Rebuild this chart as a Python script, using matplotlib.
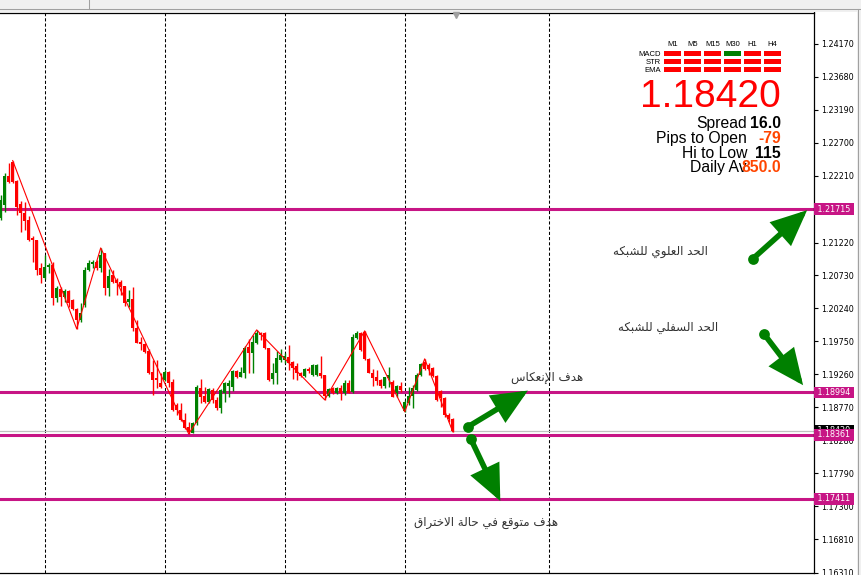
import numpy as np
import matplotlib.pyplot as plt
from matplotlib.patches import Rectangle

# ---- datos de las velas (EURUSD H4) ----
opens = [1.21586, 1.21779, 1.22210, 1.22417, 1.22135, 1.21794, 1.21659, 1.21556, 1.21289, 1.21259,
         1.20843, 1.20695, 1.20858, 1.20888, 1.20398, 1.20531, 1.20413, 1.20502, 1.20368, 1.20234,
         1.20071, 1.20294, 1.20813, 1.20902, 1.20932, 1.20843, 1.21065, 1.20546, 1.20739, 1.20665,
         1.20635, 1.20576, 1.20338, 1.20383, 1.19952, 1.19744, 1.19715, 1.19610, 1.19298, 1.19210,
         1.19135, 1.19180, 1.19298, 1.19150, 1.18809, 1.18734, 1.18586, 1.18482, 1.18393, 1.18541,
         1.19061, 1.18942, 1.18853, 1.19031, 1.18883, 1.18764, 1.18987, 1.19090, 1.19076, 1.19313,
         1.19224, 1.19283, 1.19670, 1.19580, 1.19729, 1.19878, 1.19878, 1.19655, 1.19195, 1.19283,
         1.19477, 1.19477, 1.19521, 1.19447, 1.19388, 1.19283, 1.19239, 1.19343, 1.19254, 1.19254,
         1.19283, 1.19254, 1.18942, 1.19061, 1.18987, 1.19061, 1.18987, 1.19135, 1.19001, 1.19804,
         1.19878, 1.19893, 1.19492, 1.19283, 1.19224, 1.19180, 1.19090, 1.19210, 1.19150, 1.18987,
         1.19090, 1.18720, 1.18838, 1.18942, 1.19031, 1.19254, 1.19447, 1.19402, 1.19358, 1.19239,
         1.19016, 1.18913, 1.18660, 1.18601]
highs = [1.21927, 1.22254, 1.22402, 1.22437, 1.22150, 1.21838, 1.21823, 1.21615, 1.21318, 1.21259,
         1.20917, 1.21036, 1.20917, 1.20932, 1.20576, 1.20561, 1.20531, 1.20516, 1.20383, 1.20249,
         1.20323, 1.20858, 1.20962, 1.20962, 1.20962, 1.21140, 1.21065, 1.20828, 1.20813, 1.20695,
         1.20665, 1.20576, 1.20516, 1.20561, 1.20071, 1.19819, 1.19729, 1.19640, 1.19477, 1.19477,
         1.19283, 1.19328, 1.19313, 1.19195, 1.18838, 1.18838, 1.18689, 1.18556, 1.18556, 1.19105,
         1.19195, 1.19076, 1.19061, 1.19061, 1.18928, 1.19046, 1.19150, 1.19180, 1.19328, 1.19328,
         1.19373, 1.19685, 1.19789, 1.19848, 1.19922, 1.19893, 1.19883, 1.19655, 1.19432, 1.19610,
         1.19640, 1.19580, 1.19700, 1.19462, 1.19432, 1.19298, 1.19358, 1.19373, 1.19417, 1.19417,
         1.19536, 1.19254, 1.19061, 1.19076, 1.19076, 1.19105, 1.19180, 1.19180, 1.19863, 1.19907,
         1.19883, 1.19907, 1.19506, 1.19343, 1.19328, 1.19195, 1.19224, 1.19373, 1.19180, 1.19105,
         1.19150, 1.18883, 1.19076, 1.19105, 1.19283, 1.19432, 1.19492, 1.19432, 1.19373, 1.19254,
         1.19031, 1.18928, 1.18689, 1.18616]
lows = [1.21556, 1.21674, 1.22105, 1.22105, 1.21630, 1.21377, 1.21407, 1.21244, 1.20932, 1.20739,
        1.20620, 1.20680, 1.20768, 1.20294, 1.20338, 1.20279, 1.20338, 1.20264, 1.20219, 1.19937,
        1.20041, 1.20264, 1.20798, 1.20843, 1.20813, 1.20783, 1.20442, 1.20427, 1.20620, 1.20442,
        1.20442, 1.20279, 1.20264, 1.19907, 1.19725, 1.19625, 1.19580, 1.19269, 1.18957, 1.19061,
        1.19061, 1.19165, 1.19076, 1.18720, 1.18660, 1.18571, 1.18452, 1.18378, 1.18385, 1.18511,
        1.18838, 1.18838, 1.18838, 1.18838, 1.18734, 1.18689, 1.18853, 1.18928, 1.19016, 1.19210,
        1.19217, 1.19210, 1.19283, 1.19283, 1.19715, 1.19774, 1.19640, 1.19165, 1.19120, 1.19120,
        1.19447, 1.19432, 1.19328, 1.19195, 1.19180, 1.19224, 1.19224, 1.19283, 1.19239, 1.19239,
        1.19210, 1.18883, 1.18928, 1.18972, 1.18972, 1.18883, 1.18957, 1.18980, 1.18987, 1.19789,
        1.19610, 1.19477, 1.19276, 1.19090, 1.19105, 1.19061, 1.19061, 1.19076, 1.18920, 1.18928,
        1.19001, 1.18705, 1.18809, 1.18764, 1.19016, 1.19239, 1.19328, 1.19254, 1.19224, 1.18868,
        1.18779, 1.18630, 1.18556, 1.18410]
closes = [1.21853, 1.22210, 1.22120, 1.22120, 1.21749, 1.21659, 1.21541, 1.21259, 1.21259, 1.20813,
          1.20739, 1.20858, 1.20888, 1.20398, 1.20546, 1.20413, 1.20502, 1.20323, 1.20234, 1.20071,
          1.20174, 1.20813, 1.20917, 1.20932, 1.20843, 1.21036, 1.20546, 1.20724, 1.20635, 1.20620,
          1.20561, 1.20323, 1.20383, 1.19952, 1.19729, 1.19715, 1.19595, 1.19283, 1.19180, 1.19180,
          1.19076, 1.19298, 1.19135, 1.18734, 1.18734, 1.18586, 1.18467, 1.18407, 1.18541, 1.19076,
          1.18928, 1.18853, 1.19046, 1.18883, 1.18764, 1.19031, 1.19135, 1.19135, 1.19313, 1.19224,
          1.19298, 1.19655, 1.19580, 1.19744, 1.19878, 1.19848, 1.19655, 1.19180, 1.19283, 1.19506,
          1.19551, 1.19536, 1.19432, 1.19358, 1.19283, 1.19239, 1.19343, 1.19313, 1.19402, 1.19402,
          1.19239, 1.18942, 1.19046, 1.18987, 1.19061, 1.18987, 1.19135, 1.18987, 1.19819, 1.19878,
          1.19625, 1.19492, 1.19283, 1.19210, 1.19165, 1.19090, 1.19224, 1.19254, 1.18928, 1.19090,
          1.19031, 1.18853, 1.18942, 1.19061, 1.19254, 1.19417, 1.19343, 1.19343, 1.19239, 1.18883,
          1.18913, 1.18660, 1.18601, 1.18420]

# zigzag (indice de vela, precio)
zz_idx = [3, 19, 25, 47, 64, 81, 91, 101, 106, 113]
zz_precio = [1.22437, 1.19937, 1.21140, 1.18378, 1.19922, 1.18883, 1.19907, 1.18705, 1.19492, 1.18410]

separadores = [11, 41, 71, 101, 137]          # lineas verticales de periodo
niveles = [1.21715, 1.18994, 1.18361, 1.17411]  # lineas horizontales
bid = 1.18420
ticks_precio = [1.24170, 1.23680, 1.23190, 1.22700, 1.22210, 1.21220, 1.20730, 1.20240,
                1.19750, 1.19260, 1.18770, 1.18280, 1.17790, 1.17300, 1.16810, 1.16310]

# flechas verdes: (inicio idx, inicio precio, fin idx, fin precio)
flechas = [(188.0, 1.20977, 201.6, 1.21700),
           (190.8, 1.19863, 200.6, 1.19100),
           (116.8, 1.18482, 131.8, 1.19020),
           (117.5, 1.18304, 124.9, 1.17380)]

textos = ["الحد العلوي للشبكه", "الحد السفلي للشبكه", "هدف الإنعكاس", "هدف متوقع في حالة الاختراق"]
textos_pos = [(176.8, 1.21081), (179.3, 1.19952), (145.6, 1.19210), (139.3, 1.17057)]

# panel de informacion
marcos = ["M1", "M5", "M15", "M30", "H1", "H4"]
indicadores = ["MACD", "STR", "EMA"]
senales = [[-1, -1, -1, 1, -1, -1],
           [-1, -1, -1, -1, -1, -1],
           [-1, -1, -1, -1, -1, -1]]
info_nombres = ["Spread", "Pips to Open", "Hi to Low", "Daily Av"]
info_valores = ["16.0", "-79", "115", "850.0"]
info_colores = ["black", "#FF4500", "black", "#FF4500"]

VERDE = "#008000"
ROJO = "#FF0000"
MAGENTA = "#C71585"

# ---- formas arabes (sin librerias externas) ----
FORMAS = {
    'ا': (0xFE8D, 0xFE8E), 'أ': (0xFE83, 0xFE84), 'إ': (0xFE87, 0xFE88), 'آ': (0xFE81, 0xFE82),
    'ب': (0xFE8F, 0xFE90, 0xFE91, 0xFE92), 'ت': (0xFE95, 0xFE96, 0xFE97, 0xFE98),
    'ث': (0xFE99, 0xFE9A, 0xFE9B, 0xFE9C), 'ج': (0xFE9D, 0xFE9E, 0xFE9F, 0xFEA0),
    'ح': (0xFEA1, 0xFEA2, 0xFEA3, 0xFEA4), 'خ': (0xFEA5, 0xFEA6, 0xFEA7, 0xFEA8),
    'د': (0xFEA9, 0xFEAA), 'ذ': (0xFEAB, 0xFEAC), 'ر': (0xFEAD, 0xFEAE), 'ز': (0xFEAF, 0xFEB0),
    'س': (0xFEB1, 0xFEB2, 0xFEB3, 0xFEB4), 'ش': (0xFEB5, 0xFEB6, 0xFEB7, 0xFEB8),
    'ص': (0xFEB9, 0xFEBA, 0xFEBB, 0xFEBC), 'ض': (0xFEBD, 0xFEBE, 0xFEBF, 0xFEC0),
    'ط': (0xFEC1, 0xFEC2, 0xFEC3, 0xFEC4), 'ظ': (0xFEC5, 0xFEC6, 0xFEC7, 0xFEC8),
    'ع': (0xFEC9, 0xFECA, 0xFECB, 0xFECC), 'غ': (0xFECD, 0xFECE, 0xFECF, 0xFED0),
    'ف': (0xFED1, 0xFED2, 0xFED3, 0xFED4), 'ق': (0xFED5, 0xFED6, 0xFED7, 0xFED8),
    'ك': (0xFED9, 0xFEDA, 0xFEDB, 0xFEDC), 'ل': (0xFEDD, 0xFEDE, 0xFEDF, 0xFEE0),
    'م': (0xFEE1, 0xFEE2, 0xFEE3, 0xFEE4), 'ن': (0xFEE5, 0xFEE6, 0xFEE7, 0xFEE8),
    'ه': (0xFEE9, 0xFEEA, 0xFEEB, 0xFEEC), 'و': (0xFEED, 0xFEEE), 'ى': (0xFEEF, 0xFEF0),
    'ي': (0xFEF1, 0xFEF2, 0xFEF3, 0xFEF4), 'ة': (0xFE93, 0xFE94),
}
LAM_ALEF = {'ا': (0xFEFB, 0xFEFC), 'أ': (0xFEF7, 0xFEF8), 'إ': (0xFEF9, 0xFEFA), 'آ': (0xFEF5, 0xFEF6)}


def arabe(texto):
    res = []
    prev = False
    i = 0
    while i < len(texto):
        ch = texto[i]
        sig = texto[i + 1] if i + 1 < len(texto) else ''
        if ch not in FORMAS:
            res.append(ch)
            prev = False
            i += 1
            continue
        if ch == 'ل' and sig in LAM_ALEF:
            iso, fin = LAM_ALEF[sig]
            res.append(chr(fin if prev else iso))
            prev = False
            i += 2
            continue
        f = FORMAS[ch]
        une = len(f) == 4 and sig in FORMAS
        if prev and une:
            res.append(chr(f[3]))
        elif prev:
            res.append(chr(f[1]))
        elif une:
            res.append(chr(f[2]))
        else:
            res.append(chr(f[0]))
        prev = len(f) == 4
        i += 1
    return ''.join(res[::-1])


W, H = 861, 575
fig = plt.figure(figsize=(W / 100, H / 100), dpi=100)
fig.patch.set_facecolor('white')
ax = fig.add_axes([0, 1 - 573 / H, 814 / W, (573 - 12.5) / H])

o = np.array(opens)
c = np.array(closes)
hi = np.array(highs)
lo = np.array(lows)
idx = np.arange(len(o))
colores = [VERDE if cc >= oo else ROJO for oo, cc in zip(o, c)]

for s in separadores:
    ax.axvline(s, color='black', lw=0.75, ls=(0, (3, 2)), zorder=1)

ax.axhline(bid, color='#C0C0C0', lw=0.9, zorder=1)
for n in niveles:
    ax.axhline(n, color=MAGENTA, lw=2.2, zorder=2)

ax.vlines(idx, lo, hi, colors=colores, lw=1.0, zorder=3)
alto = np.maximum(np.abs(c - o), 0.00014)
ax.bar(idx, alto, bottom=np.minimum(o, c), width=0.72, color=colores, lw=0, zorder=3)

ax.plot(zz_idx, zz_precio, color=ROJO, lw=0.8, zorder=4)

for x0, y0, x1, y1 in flechas:
    ax.annotate('', xy=(x1, y1), xytext=(x0, y0),
                arrowprops=dict(arrowstyle='-|>,head_length=1.9,head_width=0.85', color=VERDE,
                                lw=4.0, shrinkA=0, shrinkB=0, joinstyle='miter'), zorder=5)
    ax.scatter([x0], [y0], s=60, color=VERDE, zorder=6, lw=0)

for t, (tx, ty) in zip(textos, textos_pos):
    ax.text(tx, ty, arabe(t), ha='right', va='center', fontsize=8.6, color='#333333',
            family='DejaVu Sans', zorder=6)

ax.set_xlim(-0.175, 203.325)
ax.set_ylim(1.16314, 1.24637)
ax.set_xticks([])
ax.yaxis.tick_right()
ax.set_yticks(ticks_precio)
ax.set_yticklabels([f"{v:.5f}" for v in ticks_precio])
ax.tick_params(axis='y', direction='out', length=3, width=0.8, pad=2, labelsize=5.8,
               colors='black')
ax.spines['left'].set_visible(False)
for lado in ['top', 'bottom', 'right']:
    ax.spines[lado].set_linewidth(0.9)
    ax.spines[lado].set_color('black')

# etiquetas en el eje de precios
ax.annotate(f" {bid:.5f} ", xy=(1, bid), xycoords=('axes fraction', 'data'), xytext=(1, 0),
            textcoords='offset pixels', ha='left', va='center', fontsize=5.8, color='white',
            bbox=dict(boxstyle='square,pad=0.15', fc='black', ec='none'),
            annotation_clip=False, zorder=7)
for n in niveles:
    ax.annotate(f" {n:.5f} ", xy=(1, n), xycoords=('axes fraction', 'data'), xytext=(1, 0),
                textcoords='offset pixels', ha='left', va='center', fontsize=5.8, color='white',
                bbox=dict(boxstyle='square,pad=0.15', fc=MAGENTA, ec='none'),
                annotation_clip=False, zorder=8)

# capa en pixeles para el panel y la ventana
ov = fig.add_axes([0, 0, 1, 1])
ov.set_xlim(0, W)
ov.set_ylim(H, 0)
ov.axis('off')
ov.patch.set_alpha(0)

ov.add_patch(Rectangle((0, 0), W, 12, fc='#F0F0F0', ec='none'))
ov.plot([0, W], [8.5, 8.5], color='#A0A0A0', lw=0.75)
ov.plot([88.5, 88.5], [0, 8.5], color='#A0A0A0', lw=0.75)
ov.add_patch(Rectangle((857, 9), 4, H, fc='#F0F0F0', ec='none'))
ov.plot([857.5, 857.5], [9, H], color='#A0A0A0', lw=0.75)
ov.plot([456], [14.5], marker='v', ms=5, color='#A0A0A0', lw=0)

for j, m in enumerate(marcos):
    ov.text(672.5 + 20 * j, 45.5, m, ha='center', va='baseline', fontsize=5.5,
            family='Liberation Sans', color='black')
for r, nombre in enumerate(indicadores):
    ov.text(661, 55.7 + 8 * r, nombre, ha='right', va='baseline', fontsize=5.5,
            family='Liberation Sans', color='black')
    for j, sv in enumerate(senales[r]):
        ov.add_patch(Rectangle((664 + 20 * j, 51 + 8 * r), 17, 4.7,
                               fc=VERDE if sv > 0 else ROJO, ec='none'))

ov.text(781, 107, f"{bid:.5f}", ha='right', va='baseline', fontsize=28, color=ROJO,
        family='Liberation Sans')
for k, (nm, vl, cl) in enumerate(zip(info_nombres, info_valores, info_colores)):
    yb = 127.7 + 14.9 * k
    ov.text(747, yb, nm, ha='right', va='baseline', fontsize=11.3, color='black',
            family='Liberation Sans')
    ov.text(781, yb, vl, ha='right', va='baseline', fontsize=11.3, color=cl,
            family='Liberation Sans', fontweight='bold')

fig.savefig('out.png', dpi=100)
